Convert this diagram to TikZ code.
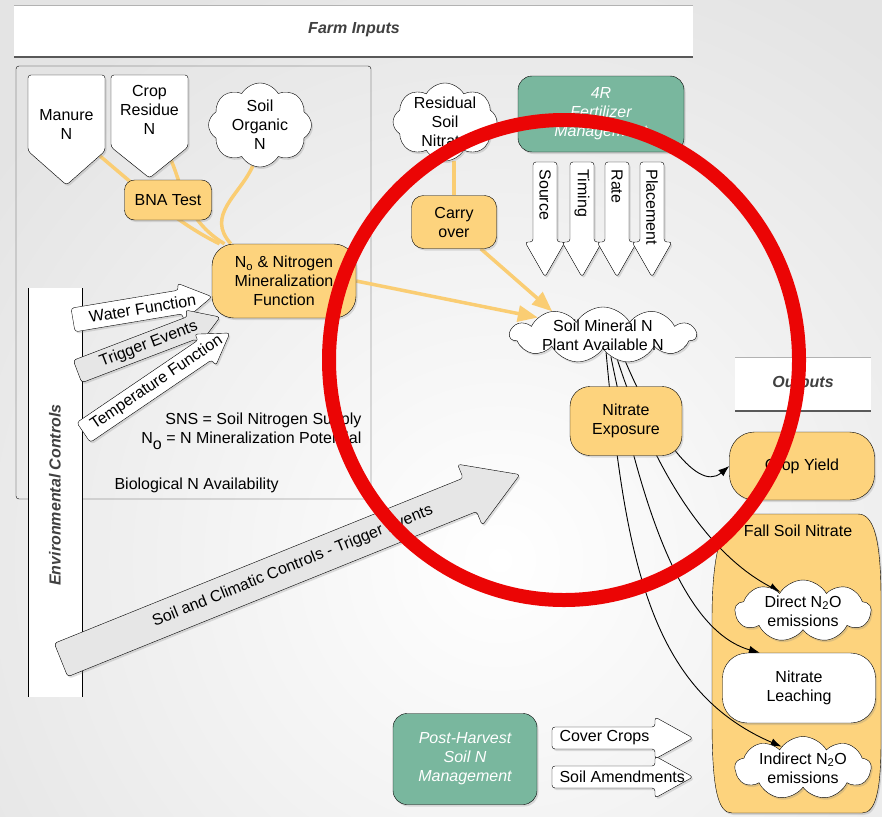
\documentclass[tikz,border=0pt]{standalone}
\usepackage{fontspec}
\setmainfont{Liberation Sans}
\usetikzlibrary{shapes.symbols, shadows, arrows.meta}

\definecolor{nfill}{RGB}{253,211,125}
\definecolor{nline}{RGB}{250,205,115}
\definecolor{mgmtgreen}{RGB}{121,183,158}
\definecolor{hdr}{RGB}{64,64,64}
\definecolor{ringred}{RGB}{235,5,5}
\definecolor{arrowgray}{RGB}{230,230,230}
\definecolor{bggray}{RGB}{228,228,228}

\pgfdeclarelayer{bg}
\pgfdeclarelayer{mid}
\pgfdeclarelayer{back}
\pgfdeclarelayer{front}
\pgfsetlayers{bg,mid,back,main,front}

\newcommand{\dfont}{\fontsize{16}{19}\selectfont}
% fat arrow: style, tail, angle, length, shaft half width, head half width, head length
\newcommand{\fatarrow}[7]{%
  \begin{scope}[shift={#2}, rotate=#3]
    \draw[fatarrow, #1] (0,-#5) -- ({#4-#7},-#5) -- ({#4-#7},-#6) -- (#4,0)
      -- ({#4-#7},#6) -- ({#4-#7},#5) -- (0,#5) -- cycle;
  \end{scope}}

\begin{document}
\begin{tikzpicture}[x=1pt, y=-1pt, font=\dfont, line width=0.9pt]
        \tikzstyle{shadowed} = [drop shadow={opacity=0.25, shadow xshift=1.5pt, shadow yshift=-2pt}]
        \tikzstyle{nbox} = [rectangle, rounded corners=20pt, draw=black, fill=nfill, align=center, inner sep=0pt, shadowed]
        \tikzstyle{whitebox} = [rectangle, rounded corners=25pt, draw=black, fill=white, align=center, inner sep=0pt, shadowed]
        \tikzstyle{mgmt} = [rectangle, rounded corners=14pt, draw=black, fill=mgmtgreen, text=white, font=\dfont\itshape, align=center, inner sep=0pt, shadowed]
        \tikzstyle{cloudbox} = [cloud, cloud puffs=8, cloud puff arc=120, cloud ignores aspect, draw=black, fill=white, inner sep=0pt, shadowed]
        \tikzstyle{hdrtext} = [font=\dfont\bfseries\itshape, text=hdr]
        \tikzstyle{fatarrow} = [draw=black, rounded corners=3pt, shadowed]
        \tikzstyle{nlink} = [draw=nline, line width=3.5pt]
        \tikzstyle{narrow} = [nlink, -{Triangle[length=20pt,width=16pt]}]
        \tikzstyle{flow} = [draw=black, line width=0.9pt, -{Latex[length=11pt,width=8pt]}]

        \useasboundingbox (0,0) rectangle (882,816);

        % background, header bands, frames
        \begin{pgfonlayer}{bg}
        \fill[bggray] (0,0) rectangle (882,816);
        \shade[inner color=white, outer color=bggray] (500,560) circle (640);
        \fill[white] (14,5) rectangle (693,57);
        \draw[gray!60] (14,5) -- (693,5);
        \draw[black!65, line width=2pt] (14,57) -- (693,57);
        \fill[white] (735,357) rectangle (871,411);
        \draw[gray!60] (735,357) -- (871,357);
        \draw[black!65, line width=2pt] (735,411) -- (871,411);
        \draw[rounded corners=3pt] (16,66) rectangle (371,499);
        \fill[white] (28,288) rectangle (82,697);
        \draw (28,288) -- (28,697) (82,288) -- (82,697);
        \end{pgfonlayer}

        \begin{pgfonlayer}{mid}
        \draw[fill=nfill, shadowed] (748,514) -- (858,514) .. controls (874,514) and (881,540) .. (881,600)
          -- (881,740) .. controls (881,790) and (876,813) .. (862,813) -- (732,813)
          .. controls (718,813) and (712,790) .. (712,720) -- (712,620)
          .. controls (712,550) and (722,514) .. (748,514) -- cycle;
        \end{pgfonlayer}

        \node (farmhdr) [hdrtext] at (354,30) {Farm Inputs};
        \node (outhdr) [hdrtext] at (803,384) {Outputs};
        \node (envhdr) [hdrtext, rotate=90] at (55,495) {Environmental Controls};

        % farm inputs
        \draw[fill=white, rounded corners=3pt, shadowed] (28,75) -- (105,75) -- (105,151) -- (66.5,185) -- (28,151) -- cycle;
        \draw[fill=white, rounded corners=3pt, shadowed] (111,75) -- (188,75) -- (188,147) -- (149.5,178) -- (111,147) -- cycle;
        \node (manure) [align=center] at (66.5,124) {Manure\\N};
        \node (cropres) [align=center] at (149.5,110) {Crop\\Residue\\N};
        \coordinate (manureout) at (100,156);
        \coordinate (cropout) at (171,160);
        \node (son) [cloudbox, minimum width=103, minimum height=84,
          label={[name=sontext, align=center]center:Soil\\Organic\\N}] at (260,125) {};

        % environmental arrows
        \fatarrow{fill=arrowgray}{(61,660)}{22}{495}{18}{33}{54}
        \node (climate) [rotate=22] at (292.8,566.3) {Soil and Climatic Controls - Trigger Events};
        \fatarrow{fill=white}{(73,320)}{9.5}{141}{12}{19}{32}
        \node (water) [rotate=9.5] at (142.5,308.4) {Water Function};
        \fatarrow{fill=arrowgray}{(77.5,371.5)}{20.9}{152.6}{12}{19}{30}
        \node (trigger) [rotate=20.9] at (148.8,344.3) {Trigger Events};
        \fatarrow{fill=white}{(83.5,432.5)}{34.2}{177}{12}{19}{30}
        \node (tempf) [rotate=34.2] at (156.7,382.8) {Temperature Function};

        \node (bna) [nbox, rounded corners=10pt, minimum width=87, minimum height=40] at (168,200) {BNA Test};
        \node (n0) [nbox, rounded corners=22pt, minimum width=144, minimum height=74] at (284,281) {N\textsubscript{o} \& Nitrogen\\Mineralization\\Function};
        \node (legend) [anchor=east, align=right] at (365,431) {SNS = Soil Nitrogen Supply\\N\raisebox{-6pt}{o} = N Mineralization Potential};
        \node (bioN) [anchor=west] at (111,485) {Biological N Availability};

        % fertilizer side
        \node (resid) [cloudbox, minimum width=104, minimum height=78,
          label={[name=residtext, align=center]center:Residual\\Soil\\Nitrate}] at (445,122) {};
        \node (carry) [nbox, rounded corners=12pt, minimum width=85, minimum height=53] at (454,222) {Carry\\over};
        \node (fourr) [mgmt, minimum width=166, minimum height=76] at (601,114) {4R\\Fertilizer\\Management};
        \foreach \name/\xx/\lbl in {source/545/Source, timing/582/Timing, rate/617/Rate, placement/652/Placement} {
          \fatarrow{fill=white}{(\xx,162)}{-90}{115}{12}{20}{35}
          \node (\name) [rotate=-90, anchor=west] at (\xx,166) {\lbl};
        }

        \node (smn) [cloudbox, cloud puffs=11, minimum width=186, minimum height=56,
          label={[name=smntext, align=center]center:Soil Mineral N\\Plant Available N}] at (603,335) {};
        \node (nexp) [nbox, rounded corners=20pt, minimum width=112, minimum height=69] at (626,421) {Nitrate\\Exposure};

        % outputs
        \node (cy) [nbox, rounded corners=25pt, minimum width=145, minimum height=68] at (802,466) {Crop Yield};
        \node (fsn) at (798,531) {Fall Soil Nitrate};
        \node (dn2o) [cloudbox, cloud puffs=9, minimum width=136, minimum height=62,
          label={[name=dn2otext, align=center]center:Direct N\textsubscript{2}O\\emissions}] at (803,611) {};
        \node (leach) [whitebox, minimum width=153, minimum height=70] at (799,688) {Nitrate\\Leaching};
        \node (in2o) [cloudbox, cloud puffs=9, minimum width=136, minimum height=63,
          label={[name=in2otext, align=center]center:Indirect N\textsubscript{2}O\\emissions}] at (803,768) {};

        % post harvest
        \node (phm) [mgmt, minimum width=144, minimum height=91] at (465,759) {Post-Harvest\\Soil N\\Management};
        \fatarrow{fill=white}{(552,738)}{0}{141}{11}{21}{38}
        \node (cover) [anchor=west] at (556,738) {Cover Crops};
        \fatarrow{fill=white}{(552,777)}{0}{141}{11}{21}{38}
        \node (amend) [anchor=west] at (556,777) {Soil Amendments};

        \begin{pgfonlayer}{back}
        \draw[nlink] (manureout) .. controls (140,190) and (180,225) .. (n0.150);
        \draw[nlink] (cropout) .. controls (182,185) and (185,220) .. (n0.148);
        \draw[nlink] (son.-100) .. controls (240,195) and (205,215) .. (n0.145);
        \draw[narrow] (n0.east) -- (smn.165);
        \draw[nlink] (resid.south -| carry.north) -- (carry.north);
        \draw[narrow] (carry.-45) -- (smn.155);

        \draw[flow] (smn.-80) .. controls (625,560) and (650,690) .. (in2o.135);
        \draw[flow] (smn.-70) .. controls (640,500) and (680,630) .. (leach.138);
        \draw[flow] (smn.-60) .. controls (640,430) and (690,545) .. (dn2o.140);
        \draw[flow] (smn.-50) .. controls (650,420) and (695,495) .. (cy.west);
        \end{pgfonlayer}

        \begin{pgfonlayer}{front}
        \draw[ringred, line width=14pt] (564,360) ellipse [x radius=235, y radius=240];
        \end{pgfonlayer}
\end{tikzpicture}
\end{document}
